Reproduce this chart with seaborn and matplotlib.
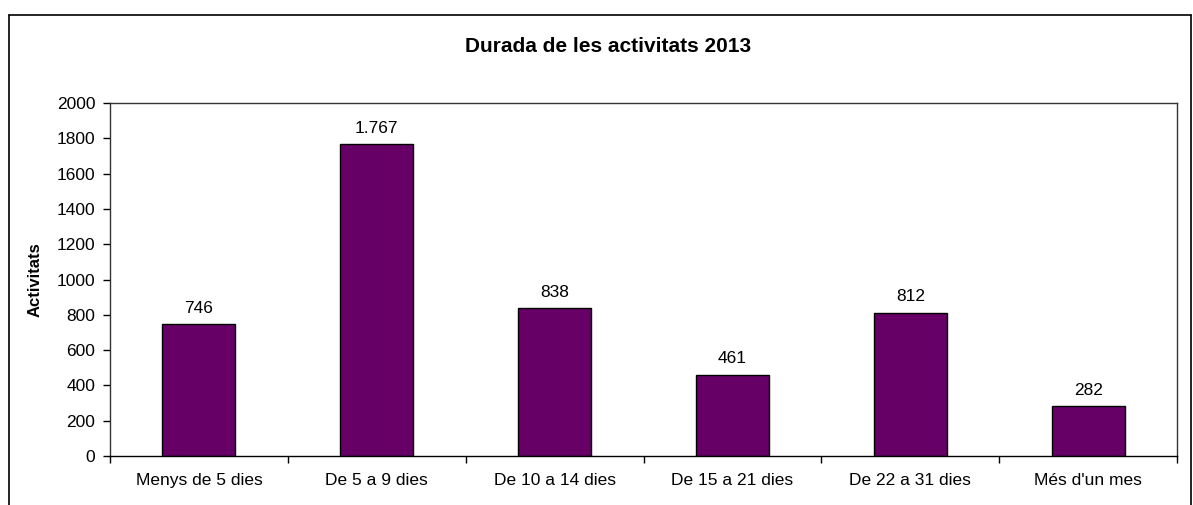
import matplotlib
matplotlib.use('Agg')
import matplotlib.pyplot as plt
import seaborn as sns
import pandas as pd
from matplotlib.lines import Line2D

categories = ['Menys de 5 dies', 'De 5 a 9 dies', 'De 10 a 14 dies',
              'De 15 a 21 dies', 'De 22 a 31 dies', "Més d'un mes"]
activitats = [746, 1767, 838, 461, 812, 282]

df = pd.DataFrame({'Durada': categories, 'Activitats': activitats})

sns.set_style('white')
plt.rcParams['font.family'] = ['Liberation Sans', 'DejaVu Sans']
plt.rcParams['text.color'] = 'black'
plt.rcParams['axes.labelcolor'] = 'black'
plt.rcParams['xtick.color'] = 'black'
plt.rcParams['ytick.color'] = 'black'

fig = plt.figure(figsize=(11.93, 5.05), dpi=100)
ax = fig.add_axes([0.0922, 0.097, 0.8944, 0.699])

sns.barplot(x='Durada', y='Activitats', data=df, color='#660066',
            edgecolor='black', linewidth=1, width=0.41, saturation=1, ax=ax)

labels = [f'{v:,}'.replace(',', '.') for v in activitats]
ax.bar_label(ax.containers[0], labels=labels, padding=6, fontsize=12.5)

ax.set_ylim(0, 2000)
ax.set_yticks(range(0, 2001, 200))
ax.set_xlim(-0.5, 5.5)
ax.set_xlabel('')
ax.set_ylabel('Activitats', fontsize=12, fontweight='bold', labelpad=10)
fig.text(608 / 1193, 1 - 46 / 505, 'Durada de les activitats 2013', fontsize=15,
         fontweight='bold', ha='center', va='center')

ax.tick_params(axis='y', which='major', length=5, width=1, direction='out',
               labelsize=12.5, left=True, pad=5.5)
ax.tick_params(axis='x', which='major', length=0, labelsize=12.5, pad=12)
ax.set_xticks([i - 0.5 for i in range(7)], minor=True)
ax.tick_params(axis='x', which='minor', length=5, width=1, direction='out',
               bottom=True)

for s in ax.spines.values():
    s.set_color('black')
    s.set_linewidth(1)
ax.spines['left'].set_color('#333333')
ax.spines['top'].set_color('#333333')
ax.spines['right'].set_color('#333333')

# outer chart frame
x0, x1, ytop = 9 / 1193, 1191 / 1193, 1 - 15 / 505
fig.add_artist(Line2D([x0, x0], [0, ytop], color='black', lw=1.2, transform=fig.transFigure))
fig.add_artist(Line2D([x0, x1], [ytop, ytop], color='black', lw=1.2, transform=fig.transFigure))
fig.add_artist(Line2D([x1, x1], [0, ytop], color='black', lw=1.2, transform=fig.transFigure))

fig.savefig('out.png', dpi=100)
